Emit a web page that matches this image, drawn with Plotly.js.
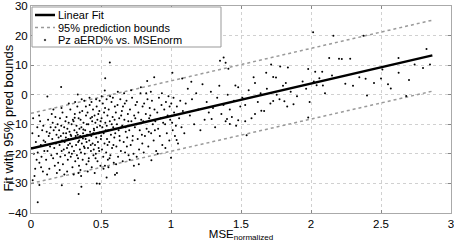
<!DOCTYPE html>
<html>
<head>
<meta charset="utf-8">
<script src="https://cdn.plot.ly/plotly-3.0.1.min.js"></script>
<style>html,body{margin:0;padding:0;background:#fff;}#chart{width:454px;height:242px;}</style>
</head>
<body>
<div id="chart"></div>
<script>
// Scatter points: Pz aERD% vs. MSEnorm (x = MSE normalized, y = aERD%)
const ptsX = [
0.01,0.02,0.015,0.03,0.035,0.04,0.045,0.025,0.005,0.048,
0.055,0.06,0.065,0.07,0.075,0.08,0.085,0.09,0.095,0.058,0.072,0.088,
0.102,0.108,0.112,0.118,0.122,0.127,0.131,0.136,0.14,0.145,0.148,0.115,0.133,
0.152,0.155,0.158,0.162,0.166,0.17,0.174,0.178,0.182,0.186,0.19,0.194,0.197,0.16,0.185,0.175,
0.201,0.204,0.207,0.21,0.213,0.216,0.219,0.222,0.225,0.228,0.231,0.234,0.237,0.24,0.243,0.246,0.249,0.205,0.218,0.238,
0.251,0.254,0.257,0.26,0.263,0.266,0.269,0.272,0.275,0.278,0.281,0.284,0.287,0.29,0.293,0.296,0.299,0.258,0.27,0.283,0.292,0.265,
0.301,0.304,0.307,0.31,0.313,0.316,0.319,0.322,0.325,0.328,0.331,0.334,0.337,0.34,0.343,0.346,0.349,0.305,0.315,0.327,0.336,0.344,0.312,0.339,0.348,
0.351,0.354,0.357,0.36,0.363,0.366,0.369,0.372,0.375,0.378,0.381,0.384,0.387,0.39,0.393,0.396,0.399,0.353,0.362,0.371,0.383,0.392,0.358,0.374,0.397,
0.401,0.404,0.407,0.41,0.413,0.416,0.419,0.422,0.425,0.428,0.431,0.434,0.437,0.44,0.443,0.446,0.449,0.405,0.418,0.427,0.436,0.445,0.411,0.432,0.448,
0.451,0.454,0.457,0.46,0.463,0.466,0.469,0.472,0.475,0.478,0.481,0.484,0.487,0.49,0.493,0.496,0.499,0.455,0.465,0.474,0.483,0.492,0.461,0.488,0.497,
0.501,0.504,0.507,0.51,0.513,0.516,0.519,0.522,0.525,0.528,0.531,0.534,0.537,0.54,0.543,0.546,0.549,0.505,0.518,0.529,0.541,0.547,
0.551,0.555,0.559,0.563,0.567,0.571,0.575,0.579,0.583,0.587,0.591,0.595,0.599,0.553,0.565,0.577,0.589,0.597,0.561,0.585,
0.602,0.606,0.61,0.614,0.618,0.622,0.626,0.63,0.634,0.638,0.642,0.646,0.649,0.608,0.62,0.632,0.644,0.614,
0.652,0.657,0.662,0.667,0.672,0.677,0.682,0.687,0.692,0.697,0.655,0.665,0.675,0.685,0.695,0.67,
0.702,0.707,0.712,0.717,0.722,0.727,0.732,0.737,0.742,0.747,0.705,0.715,0.725,0.735,0.745,
0.752,0.757,0.762,0.767,0.772,0.777,0.782,0.787,0.792,0.797,0.755,0.77,0.785,0.795,
0.802,0.808,0.814,0.82,0.826,0.832,0.838,0.844,0.848,0.805,0.823,0.841,
0.852,0.858,0.864,0.87,0.876,0.882,0.888,0.894,0.856,0.885,
0.902,0.908,0.914,0.92,0.926,0.932,0.938,0.944,0.905,0.935,
0.952,0.958,0.964,0.97,0.976,0.982,0.988,0.994,0.96,0.99,
1.002,1.008,1.012,1.018,1.022,1.028,1.035,1.042,1.05,1.058,1.066,1.075,1.085,1.095,
1.105,1.12,1.135,1.15,1.165,1.18,1.195,1.21,1.225,1.24,1.255,1.27,1.285,1.3,1.315,1.33,1.345,1.36,1.375,1.39,1.405,1.42,1.435,1.45,1.465,1.48,1.495,
1.51,1.53,1.555,1.575,1.6,1.62,1.64,1.665,1.685,1.71,1.73,1.755,1.775,1.8,1.83,1.855,1.9,1.94,1.965,1.99,
2.02,2.1,2.15,2.3,2.45,2.5,2.7,2.8,
0.563,0.215,0.117,0.334,0.53,0.527,0.88,0.83,1.01,1.08,1.145,1.35,1.376,1.39,1.41,1.46,1.59,1.68,1.715,1.75,1.78,1.835,1.82,1.98,
2.015,2.03,2.08,2.04,2.085,2.06,2.16,2.13,2.2,2.22,2.28,2.245,2.345,2.39,2.4,2.375,2.51,2.55,2.57,2.626,2.625,2.74,2.825,2.85,2.68,
1.98,1.73,1.81,1.875,1.645,1.6,1.53,1.48,1.54,1.4,1.42,1.29,1.0,1.04,0.86,0.54,0.6,0.74,0.47,0.49,0.34,0.36,0.048,0.012,0.06,0.22
];
const ptsY = [
-13,-20,-8,-25,-16,-22,-11,-27.5,-18,-19.5,
-14,-23,-9,-17,-21,-12,-26,-15.5,-19,-7,-24.5,-10.5,
-16,-22,-12.5,-19,-8.5,-14,-25,-17.5,-11,-20.5,-6.5,-27,-13,
-15,-9.5,-21.5,-12,-18,-24,-7.5,-16.5,-13.5,-20,-10,-23,-14.5,-5,-26.5,-11,
-12,-17,-8,-21,-14,-10.5,-19,-15.5,-6,-23.5,-13,-18.5,-11,-16,-20.5,-9,-14.5,-25.5,-4.5,-27,
-13,-7.5,-18,-11.5,-22,-15,-9.5,-19.5,-12.5,-16.5,-5,-21,-14,-10,-17.5,-24.5,-8.5,-26,-3,-13.5,-20,-17,
-15,-9,-19,-12,-6.5,-22.5,-14,-17,-10.5,-20.5,-4,-13.5,-16,-8,-24,-11.5,-18.5,-27,-2.5,-12.8,-21.5,-15.5,-7.8,-26.5,-6,
-14,-8.5,-19.5,-11,-16.5,-5.5,-22,-13,-9.5,-17.5,-2,-20,-12,-15,-7,-23.5,-10,-25.5,-1.5,-14.8,-18,-4,-27.5,-11.8,-16,
-13.5,-6,-18,-10,-21.5,-15.5,-3.5,-12.5,-8,-19,-14,-24.5,-9,-16.5,-5,-20.5,-11.5,-26,-1,-17,-7.5,-13,-22.5,-2.5,-18.5,
-12,-7,-17,-9.5,-20,-14.5,-4,-11,-22.5,-16,-6.5,-13,-19,-2,-10.5,-24,-15,-26.5,-1.5,-8.5,-18,-12.8,-21.5,-5.5,-9,
-14,-8,-18.5,-11,-3,-21,-13,-6,-16.5,-24,-9.5,-12,-19.5,-1.5,-15,-7,-22,-0.5,-25,-4.5,-10.5,-17,
-12,-5,-16,-9,-20.5,-13.5,-2.5,-18,-7.5,-11,-23,-14.5,-4,-24.5,-0.5,-10,-17,-8.5,-21.5,-1,
-13,-6,-17.5,-10,-3.5,-21,-12,-8,-15.5,-1.5,-19,-11,-5.5,-23.5,1,-14,-7,-26.5,
-10.5,-4,-16,-8.5,-19.5,-12.5,-2,-14.5,-6.5,-20.5,-22.5,0.5,-11,-17.5,-9,-3,
-12,-5,-17,-9,-1,-14,-20,-7,-11,-3.5,-22,1.5,-15.5,-24,-8,
-10,-2.5,-15,-6,-18.5,-12,0.5,-8.5,-13.5,-4,-21,-23.5,2.5,-16.5,
-9,-3,-14,-6.5,-11.5,-1.5,-17.5,-8,-4.5,-19.5,0.5,-12.5,
-7,-13,-2,-10,-15.5,-5,-9,-19,1,-12,
-6,-11.5,-1,-14,-8,-3.5,-17,-9.5,-20,0.5,
-5,-10,-2.5,-13,-7,-0.5,-15.5,-8.5,-18,-4,
-3,-9.5,-12,-1,-6,-14,-10.5,-4,-16.5,-8,-2,-11,-5.5,-13,
-3,2,-7,-1.5,-10,0.5,-5,-12,3.5,-8.5,-2.5,-6,1,-4.5,-11,-1,3,-6.5,-3.5,-9,0,-5,-7.5,-2,-10.5,2.5,-4,
-1,-3.5,1.5,-8,4,-2.5,0.5,-5.5,2,-3,6,0,-1.5,3,-4,1,-0.5,4.5,2,-2.5,
4.5,0.5,6.5,3,4,5.5,5,9,
10.9,2.6,-0.6,0.1,5.6,1.4,5.9,4.6,7.4,5.5,4.4,11.5,12.6,10.8,8.8,3.1,5.9,7.4,10.2,5.8,9.5,9.2,4.0,8.7,
21.1,7.8,7.8,3.2,3.1,5.6,19.9,12.4,12.2,12.1,12.2,3.7,5.9,5.4,-0.3,19.9,8.5,3.5,2.1,7.4,12.4,10.2,15.5,10.2,-0.4,
-7.7,-2.1,-2.2,-3.2,-5.4,-6.5,-9.0,-8.6,-13.7,-8.2,-9.9,-8.2,-21.3,-15.3,-22.2,-28.0,-27.1,-28.9,-30.0,-30.1,-33.6,-31.1,-36.4,-28.9,-30.5,-30.6
];
// Linear fit and 95% prediction bounds (end points)
const fitX = [0, 2.867];
const fitY = [-18.2, 13.3];
const upperY = [-6.3, 25.2];
const lowerY = [-30.0, 1.2];
const xTicks = [0, 0.5, 1, 1.5, 2, 2.5, 3];
const xTickText = ['0', '0.5', '1', '1.5', '2', '2.5', '3'];
const yTicks = [-40, -30, -20, -10, 0, 10, 20, 30];
const legendLabels = ['Linear Fit', '95% prediction bounds', 'Pz aERD% vs. MSEnorm'];
const xTitle = 'MSE<sub>normalized</sub>';
const yTitle = 'Fit with 95% pred bounds';

const fitColor = '#000';
const boundColor = '#9a9a9a';
const traces = [
  {x: fitX, y: fitY, mode: 'lines', name: legendLabels[0], showlegend: false,
   line: {color: fitColor, width: 2.5}},
  {x: fitX, y: upperY, mode: 'lines', name: legendLabels[1], showlegend: false,
   line: {color: boundColor, width: 1.5, dash: 'dot'}},
  {x: fitX, y: lowerY, mode: 'lines', name: legendLabels[1], showlegend: false,
   line: {color: boundColor, width: 1.5, dash: 'dot'}},
  {x: ptsX, y: ptsY, mode: 'markers', name: legendLabels[2], showlegend: false,
   marker: {color: '#000', size: 2}}
];

// plot area in pixels: left 31, right 451, top 6, bottom 213
const M = {l: 31, r: 3, t: 6, b: 29};
const W = 454, H = 242;
const pw = W - M.l - M.r, ph = H - M.t - M.b;
const px = v => (v - M.l) / pw;
const py = v => (H - M.b - v) / ph;

const FAM = 'Arial, Liberation Sans, sans-serif';
const axFont = {family: FAM, size: 11, color: '#000'};
const tickFont = {family: FAM, size: 11.5, color: '#000'};
// hand-built legend box (MATLAB style, compact rows)
const shapes = [
  {type: 'rect', xref: 'paper', yref: 'paper', x0: px(32), x1: px(221), y0: py(47), y1: py(7),
   line: {color: '#999', width: 1}, fillcolor: '#fff', layer: 'above'},
  {type: 'line', xref: 'paper', yref: 'paper', x0: px(35), x1: px(55), y0: py(15), y1: py(15),
   line: {color: fitColor, width: 2.5}, layer: 'above'},
  {type: 'line', xref: 'paper', yref: 'paper', x0: px(35), x1: px(55), y0: py(27.5), y1: py(27.5),
   line: {color: boundColor, width: 1.5, dash: 'dot'}, layer: 'above'},
  {type: 'circle', xref: 'paper', yref: 'paper', x0: px(44.2), x1: px(45.8), y0: py(40.8), y1: py(39.2),
   line: {color: '#000', width: 0.5}, fillcolor: '#000', layer: 'above'}
];
const annRows = [15, 27.5, 40];
const annotations = legendLabels.map((t, i) => ({
  text: t, xref: 'paper', yref: 'paper', x: px(56), y: py(annRows[i]),
  xanchor: 'left', yanchor: 'middle', showarrow: false, font: axFont
}));
annotations.push({
  text: yTitle, xref: 'paper', yref: 'paper', x: px(8.5), y: py(118),
  xanchor: 'center', yanchor: 'middle', textangle: -90, showarrow: false,
  font: {family: FAM, size: 13, color: '#000'}
});

const layout = {
  width: W, height: H,
  margin: M,
  paper_bgcolor: '#fff', plot_bgcolor: '#fff',
  font: axFont,
  showlegend: false,
  shapes: shapes,
  annotations: annotations,
  xaxis: {range: [0, 3], tickvals: xTicks, ticktext: xTickText,
    ticks: 'inside', ticklen: 3, tickcolor: '#888', ticklabeloverflow: 'allow',
    showgrid: true, gridcolor: '#d0d0d0', griddash: 'dot', gridwidth: 1,
    zeroline: false, showline: true, linecolor: '#aaa', mirror: 'ticks',
    tickfont: tickFont,
    title: {text: xTitle, font: {family: FAM, size: 11.5, color: '#000'}, standoff: 0}},
  yaxis: {range: [-40, 30], tickvals: yTicks,
    ticks: 'inside', ticklen: 3, tickcolor: '#888', ticklabeloverflow: 'allow',
    showgrid: true, gridcolor: '#d0d0d0', griddash: 'dot', gridwidth: 1,
    zeroline: false, showline: true, linecolor: '#aaa', mirror: 'ticks',
    tickfont: tickFont}
};
Plotly.newPlot('chart', traces, layout, {displayModeBar: false, staticPlot: true});
</script>
</body>
</html>
